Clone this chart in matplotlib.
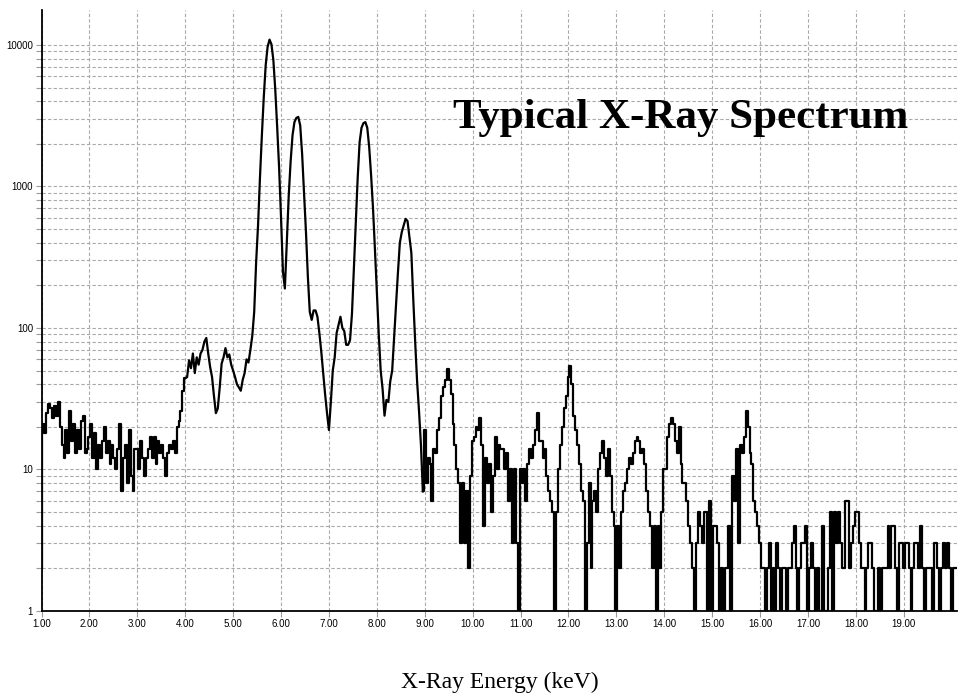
import numpy as np
import matplotlib
matplotlib.use("Agg")
import matplotlib.pyplot as plt
from matplotlib.ticker import FixedLocator, FuncFormatter, NullFormatter, LogLocator

# spectrum channels: 0.04 keV wide, first channel at 1.00 keV
energy_start = 1.00
channel_kev = 0.04

# counts per channel, one row per keV
counts_1_4kev = [
    2, 21, 18, 25, 29, 27, 23, 28, 24, 30, 20, 15, 12, 19, 13, 26, 16, 21, 13, 19, 14, 22, 24, 13, 14,
    17, 21, 12, 18, 10, 15, 12, 16, 20, 13, 16, 11, 15, 12, 10, 14, 21, 7, 12, 15, 8, 19, 9, 7, 14,
    14, 10, 16, 12, 9, 12, 14, 17, 12, 17, 11, 16, 13, 15, 12, 9, 13, 15, 14, 16, 13, 20, 22, 26, 36,
]
counts_4_9kev = [
    44, 45, 59, 52, 66, 48, 62, 55, 66, 70, 80, 85, 66, 53, 45, 33, 25, 27, 38, 56, 62, 72, 62, 65, 55,
    50, 45, 40, 38, 36, 43, 48, 60, 57, 70, 88, 130, 290, 530, 1150, 2300, 4300, 7200, 9700, 10900,
    10100, 7800, 4800, 2600, 1350,
    600, 250, 190, 400, 850, 1500, 2300, 2850, 3050, 3100, 2700, 1700, 900, 480, 230, 130, 114, 133,
    133, 120, 92, 68, 48, 34, 25,
    19, 30, 50, 62, 92, 105, 120, 100, 95, 76, 76, 82, 125, 260, 550, 1150, 2050, 2600, 2800, 2850,
    2600, 1900, 1200, 700, 360,
    180, 90, 50, 37, 24, 31, 30, 42, 50, 85, 145, 245, 400, 475, 530, 590, 570, 440, 340, 160, 80,
    42, 26, 15, 7,
]
counts_9_16kev = [
    19, 8, 12, 11, 6, 14, 13, 19, 23, 33, 38, 43, 51, 43, 34, 21, 15, 10, 8, 3, 8, 3, 7, 2, 9,
    16, 17, 20, 19, 23, 15, 4, 12, 8, 11, 5, 9, 17, 10, 15, 14, 14, 10, 13, 6, 10, 3, 10, 3, 1,
    10, 8, 10, 6, 11, 14, 12, 15, 19, 25, 16, 16, 12, 14, 9, 7, 6, 5, 1, 5, 10, 15, 20, 27, 33,
    45, 54, 40, 24, 19, 15, 11, 7, 6, 1, 3, 8, 2, 6, 7, 5, 10, 13, 16, 12, 9, 14, 9, 5, 4,
    1, 4, 2, 5, 7, 8, 10, 12, 11, 13, 16, 17, 16, 13, 14, 11, 7, 5, 4, 2, 4, 1, 4, 2, 5,
    10, 10, 17, 21, 23, 21, 16, 13, 20, 11, 8, 8, 6, 4, 3, 2, 1, 3, 5, 4, 3, 5, 5, 1, 6,
    1, 4, 4, 3, 1, 2, 1, 2, 2, 4, 1, 9, 6, 14, 3, 15, 13, 17, 26, 20, 13, 11, 6, 5, 4,
]
counts_16_20kev = [
    3, 2, 2, 1, 2, 3, 1, 2, 1, 3, 2, 1, 2, 2, 1, 2, 2, 3, 4, 2, 1, 2, 3, 3, 4,
    1, 2, 3, 2, 1, 2, 1, 1, 4, 1, 1, 2, 5, 1, 5, 3, 5, 3, 2, 2, 6, 6, 2, 3, 4,
    5, 5, 3, 2, 2, 1, 2, 3, 3, 2, 1, 1, 2, 1, 2, 2, 2, 4, 2, 4, 4, 2, 1, 3, 3,
    2, 3, 3, 2, 1, 2, 3, 3, 2, 4, 2, 1, 2, 2, 2, 1, 3, 3, 2, 1, 2, 3, 2, 3, 2,
    1, 2, 2,
]

x_ticks = list(range(1, 20))
x_tick_labels = [f"{v:.2f}" for v in x_ticks]
y_ticks = [1, 10, 100, 1000, 10000]

counts = np.array(counts_1_4kev + counts_4_9kev + counts_9_16kev + counts_16_20kev, dtype=float)
energy = energy_start + channel_kev * np.arange(len(counts))

fig = plt.figure(figsize=(9.6, 6.95), dpi=100)
ax = fig.add_axes([41.5 / 960, 1 - 611 / 695, (957 - 41.5) / 960, (611 - 10) / 695])

# noisy low-count parts look blocky, the big peaks smooth
n1 = len(counts_1_4kev)
n2 = n1 + len(counts_4_9kev)
line_kw = dict(color="black", lw=1.6, zorder=3)
ax.plot(energy[:n1 + 1], counts[:n1 + 1], drawstyle="steps-mid", **line_kw)
ax.plot(energy[n1:n2], counts[n1:n2], **line_kw)
ax.plot(energy[n2 - 1:], counts[n2 - 1:], drawstyle="steps-mid", **line_kw)

ax.set_yscale("log")
ax.set_ylim(1, 17650)
ax.set_xlim(1.0, 20.11)

ax.xaxis.set_major_locator(FixedLocator(x_ticks))
ax.set_xticklabels(x_tick_labels)
ax.yaxis.set_major_locator(FixedLocator(y_ticks))
ax.yaxis.set_major_formatter(FuncFormatter(lambda v, _: f"{int(round(v))}"))
ax.yaxis.set_minor_locator(LogLocator(base=10, subs=np.arange(2, 10)))
ax.yaxis.set_minor_formatter(NullFormatter())

grid_kw = dict(color="#a9a9a9", lw=0.8, ls=(0, (3, 2)))
ax.grid(True, which="both", axis="y", **grid_kw)
ax.grid(True, which="major", axis="x", **grid_kw)
ax.set_axisbelow(True)

for side in ("top", "right"):
    ax.spines[side].set_visible(False)
for side in ("left", "bottom"):
    ax.spines[side].set_linewidth(1.3)
    ax.spines[side].set_color("black")

ax.tick_params(which="both", direction="out", length=4, width=0.8, color="#9a9a9a",
               labelsize=7, pad=2)
for lab in ax.get_xticklabels() + ax.get_yticklabels():
    lab.set_family("Liberation Sans")

fig.text(0.946, 0.816, "Typical X-Ray Spectrum", ha="right", va="baseline",
         fontsize=31, fontweight="bold", family="Liberation Serif")
fig.text(0.521, 0.01, "X-Ray Energy (keV)", ha="center", va="baseline",
         fontsize=17, family="Liberation Serif")

fig.savefig("out.png", dpi=100)
